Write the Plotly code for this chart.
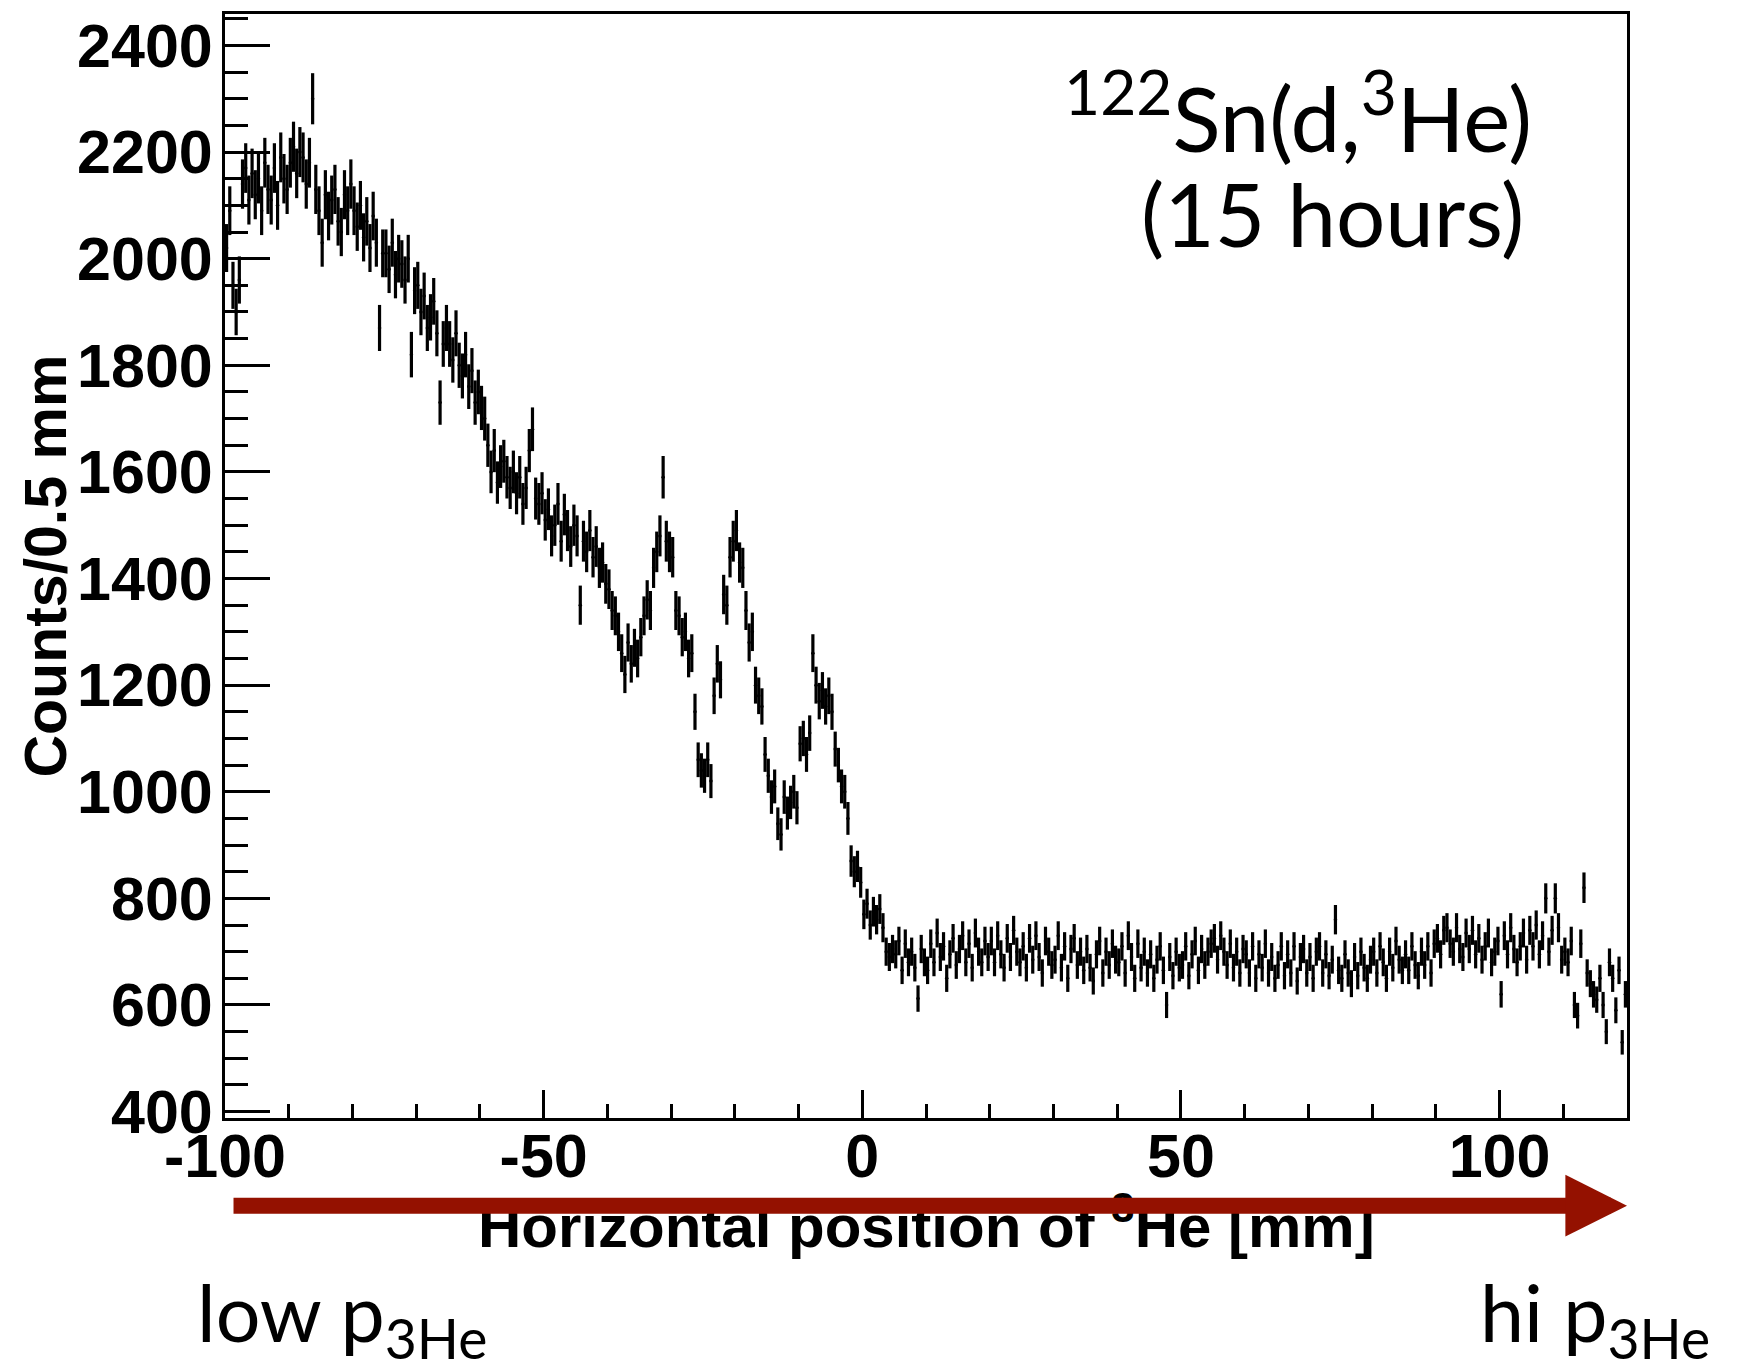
import numpy as np
import plotly.graph_objects as go

# Histogram: counts per 0.5 mm bin, from -100 mm to 120 mm (440 bins)
bin_low = -100.0
bin_width = 0.5
counts = [
    2020, 2090, 1950, 1900, 1960, 2140, 2170, 2110, 2160, 2120,
    2150, 2090, 2180, 2130, 2110, 2170, 2100, 2190, 2150, 2130,
    2180, 2210, 2160, 2200, 2190, 2140, 2180, 2300, 2130, 2090,
    2030, 2120, 2080, 2110, 2130, 2070, 2050, 2120, 2090, 2140,
    2090, 2060, 2100, 2040, 2070, 2020, 2080, 2030, 1870, 2010,
    2010, 1980, 2030, 1970, 2000, 1990, 1960, 2000, 1820, 1940,
    1950, 1900, 1930, 1870, 1890, 1920, 1860, 1730, 1840, 1870,
    1840, 1810, 1860, 1800, 1780, 1820, 1760, 1790, 1730, 1750,
    1720, 1700, 1650, 1600, 1640, 1580, 1610, 1620, 1590, 1570,
    1600, 1560, 1590, 1540, 1570, 1640, 1680, 1550, 1540, 1560,
    1510, 1530, 1480, 1500, 1540, 1470, 1520, 1490, 1460, 1500,
    1480, 1350, 1470, 1450, 1490, 1440, 1460, 1420, 1430, 1390,
    1380, 1340, 1330, 1300, 1260, 1220, 1280, 1240, 1270, 1250,
    1290, 1330, 1360, 1340, 1420, 1450, 1480, 1590, 1470, 1450,
    1440, 1340, 1330, 1290, 1300, 1250, 1260, 1150, 1060, 1040,
    1030, 1060, 1020, 1180, 1240, 1210, 1370, 1350, 1440, 1470,
    1490, 1430, 1420, 1340, 1280, 1300, 1200, 1180, 1160, 1070,
    1030, 990, 1010, 940, 920, 990, 960, 980, 1000, 970,
    1090, 1100, 1070, 1110, 1260, 1200, 1170, 1190, 1160, 1180,
    1150, 1080, 1050, 1010, 1000, 950, 870, 850, 860, 830,
    770, 790, 750, 775, 760, 780, 745, 700, 690, 705,
    695, 720, 665, 715, 680, 700, 670, 612, 705, 680,
    665, 715, 680, 735, 690, 710, 650, 695, 725, 675,
    705, 730, 680, 715, 670, 735, 700, 680, 720, 690,
    720, 680, 730, 695, 670, 725, 690, 740, 700, 680,
    710, 670, 725, 685, 730, 690, 660, 720, 700, 675,
    685, 730, 670, 710, 650, 705, 725, 675, 700, 665,
    705, 670, 645, 695, 720, 660, 700, 675, 715, 685,
    680, 710, 660, 730, 690, 650, 715, 670, 700, 660,
    695, 650, 685, 710, 665, 600, 690, 655, 700, 670,
    675, 710, 655, 695, 720, 665, 705, 675, 700, 715,
    725, 685, 730, 700, 675, 715, 670, 700, 660, 705,
    695, 660, 710, 650, 695, 670, 715, 660, 690, 650,
    675, 710, 655, 695, 660, 710, 645, 690, 705, 660,
    690, 650, 700, 710, 660, 695, 655, 685, 760, 665,
    650, 695, 660, 640, 690, 655, 700, 670, 650, 685,
    700, 660, 710, 680, 650, 700, 670, 720, 685, 665,
    695, 665, 710, 675, 655, 700, 675, 710, 660, 715,
    725, 695, 740, 745, 715, 700, 745, 705, 690, 735,
    705, 740, 695, 725, 685, 710, 735, 680, 700, 720,
    620, 730, 695, 745, 705, 680, 710, 735, 685, 740,
    710, 750, 695, 730, 800, 700, 740, 800, 745, 685,
    700, 680, 720, 600, 580, 715, 820, 660, 640, 620,
    610, 650, 600, 550, 680, 650, 590, 665, 530, 620,
]

y_tick_values = [400, 600, 800, 1000, 1200, 1400, 1600, 1800, 2000, 2200, 2400]
y_tick_labels = ["400", "600", "800", "1000", "1200", "1400", "1600", "1800", "2000", "2200", "2400"]
x_tick_values = [-100, -50, 0, 50, 100]
x_tick_labels = ["-100", "-50", "0", "50", "100"]

counts = np.array(counts, dtype=float)
x_centers = bin_low + bin_width * (np.arange(len(counts)) + 0.5)
errors = np.sqrt(counts)

BOLD = "Liberation Sans"
SLIDE = "Lato"
ARROW_RED = "#941100"

fig = go.Figure()
fig.add_trace(go.Scatter(
    x=x_centers, y=counts, mode="markers",
    marker=dict(color="black", size=3.5),
    error_y=dict(type="data", array=errors, visible=True,
                 color="black", thickness=3.2, width=0),
    showlegend=False, cliponaxis=True,
))

# page body has an 8 px margin: figure is 8 px smaller and shifted accordingly
fig.update_layout(
    width=1730, height=1355,
    margin=dict(l=217, r=111, t=3, b=245),
    paper_bgcolor="white", plot_bgcolor="white",
    showlegend=False,
    xaxis=dict(
        range=[-100, 120], showgrid=False, zeroline=False,
        showline=True, linewidth=3, linecolor="black", mirror=True,
        ticks="inside", ticklen=28, tickwidth=3, tickcolor="black",
        tickvals=x_tick_values, ticktext=x_tick_labels,
        tickfont=dict(family=BOLD, size=61, color="black", weight="bold"),
        ticklabelstandoff=-17,
        minor=dict(dtick=10, ticks="inside", ticklen=14, tickwidth=2.5,
                   tickcolor="black", showgrid=False),
    ),
    yaxis=dict(
        range=[388, 2459], showgrid=False, zeroline=False,
        showline=True, linewidth=3, linecolor="black", mirror=True,
        ticks="inside", ticklen=45, tickwidth=3, tickcolor="black",
        tickvals=y_tick_values, ticktext=y_tick_labels,
        tickfont=dict(family=BOLD, size=61, color="black", weight="bold"),
        ticklabelstandoff=-3,
        minor=dict(dtick=50, ticks="inside", ticklen=23, tickwidth=2.5,
                   tickcolor="black", showgrid=False),
    ),
)

annotations = [
    # y-axis title
    dict(text="<b>Counts/0.5 mm</b>", textangle=-90,
         x=-0.128, y=0.5, xref="paper", yref="paper",
         xanchor="center", yanchor="middle", showarrow=False,
         font=dict(family=BOLD, size=59, color="black")),
    # x-axis title (drawn before the arrow so the arrow covers it)
    dict(text="<b>Horizontal position of <sup>3</sup>He [mm]</b>",
         x=0.5, y=-0.094, xref="paper", yref="paper",
         xanchor="center", yanchor="middle", showarrow=False,
         font=dict(family=BOLD, size=60, color="black")),
    # red arrow
    dict(text="", x=120, y=-0.0794, xref="x", yref="y domain",
         ax=-98.9, ay=-0.0794, axref="x", ayref="y domain",
         showarrow=True, arrowhead=2, arrowsize=0.77, arrowwidth=16,
         arrowcolor=ARROW_RED),
    # reaction label
    dict(text="<sup>122</sup>Sn(d,<sup>3</sup>He)",
         x=0.7653, y=0.9107, xref="paper", yref="paper",
         xanchor="center", yanchor="middle", showarrow=False,
         font=dict(family=SLIDE, size=89, color="black")),
    dict(text="(15 hours)",
         x=0.790, y=0.8195, xref="paper", yref="paper",
         xanchor="center", yanchor="middle", showarrow=False,
         font=dict(family=SLIDE, size=87, color="black")),
    # momentum labels
    dict(text="low p<sub>3He</sub>",
         x=-0.0214, y=-0.1805, xref="paper", yref="paper",
         xanchor="left", yanchor="middle", showarrow=False,
         font=dict(family=SLIDE, size=79, color="black")),
    dict(text="hi p<sub>3He</sub>",
         x=1.0606, y=-0.1805, xref="paper", yref="paper",
         xanchor="right", yanchor="middle", showarrow=False,
         font=dict(family=SLIDE, size=79, color="black")),
]
fig.update_layout(annotations=annotations)

fig.write_html("out.html")
